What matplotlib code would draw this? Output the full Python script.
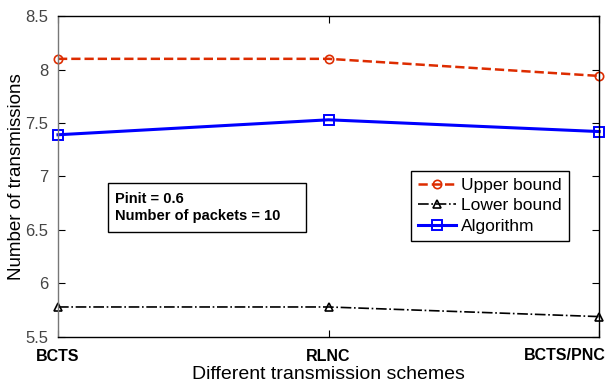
import matplotlib
matplotlib.use("Agg")
import matplotlib.pyplot as plt
from matplotlib.patches import Rectangle

plt.rcParams['font.family'] = ['Liberation Sans', 'DejaVu Sans']

# data
schemes = ["BCTS", "RLNC", "BCTS/PNC"]
upper_bound = [8.10, 8.10, 7.94]
lower_bound = [5.78, 5.78, 5.69]
algorithm = [7.39, 7.53, 7.42]

x = [1, 2, 3]

fig = plt.figure(figsize=(6.06, 3.82), dpi=100)
ax = fig.add_axes([0.0957, 0.118, 0.893, 0.840])

ax.plot(x, upper_bound, "--", color="#dd2c00", lw=1.8, marker="o", ms=6,
        mfc="none", mec="#dd2c00", mew=1.2, label="Upper bound", clip_on=False)
ax.plot(x, lower_bound, "-.", color="black", lw=1.2, marker="^", ms=6,
        mfc="none", mec="black", mew=1.2, label="Lower bound", clip_on=False)
ax.plot(x, algorithm, "-", color="#0000ff", lw=2.2, marker="s", ms=7,
        mfc="none", mec="#0000ff", mew=1.4, label="Algorithm", clip_on=False)

ax.set_xlim(1, 3)
ax.set_ylim(5.5, 8.5)
ax.set_yticks([5.5, 6, 6.5, 7, 7.5, 8, 8.5])
ax.set_yticklabels(["5.5", "6", "6.5", "7", "7.5", "8", "8.5"])
ax.set_xticks(x)

ax.tick_params(direction="in", length=5, top=True, right=True, labelsize=12,
               labelcolor="#444444", pad=7)
ax.tick_params(axis="x", labelcolor="black", labelsize=11.5, pad=9)

# last label sits left of its tick, like matlab keeps it inside the figure
ax.set_xticklabels(schemes[:-1] + [""], fontweight="bold")
ax.text(1.012, -0.034, schemes[-1], transform=ax.transAxes, ha="right", va="top",
        fontweight="bold", fontsize=11.5)

for s in ax.spines.values():
    s.set_linewidth(1.0)
ax.spines["left"].set_color("#777777")

ax.set_ylabel("Number of transmissions", fontsize=13.5, labelpad=0)
ax.set_xlabel("Different transmission schemes", fontsize=14, labelpad=1)

# info box
ax.add_patch(Rectangle((0.0924, 0.327), 0.366, 0.153, transform=ax.transAxes,
                       fc="white", ec="black", lw=1, zorder=4))
ax.text(0.105, 0.404, "Pinit = 0.6\nNumber of packets = 10", transform=ax.transAxes,
        fontsize=10.5, fontweight="bold", va="center", linespacing=1.3, zorder=5)

leg = ax.legend(loc="upper left", bbox_to_anchor=(0.652, 0.517), fontsize=12.5,
                frameon=True, fancybox=False, edgecolor="black", framealpha=1,
                handlelength=2.2, handletextpad=0.3, borderpad=0.4, labelspacing=0.3,
                borderaxespad=0)
leg.get_frame().set_linewidth(1.0)

fig.savefig("out.png", dpi=100)
